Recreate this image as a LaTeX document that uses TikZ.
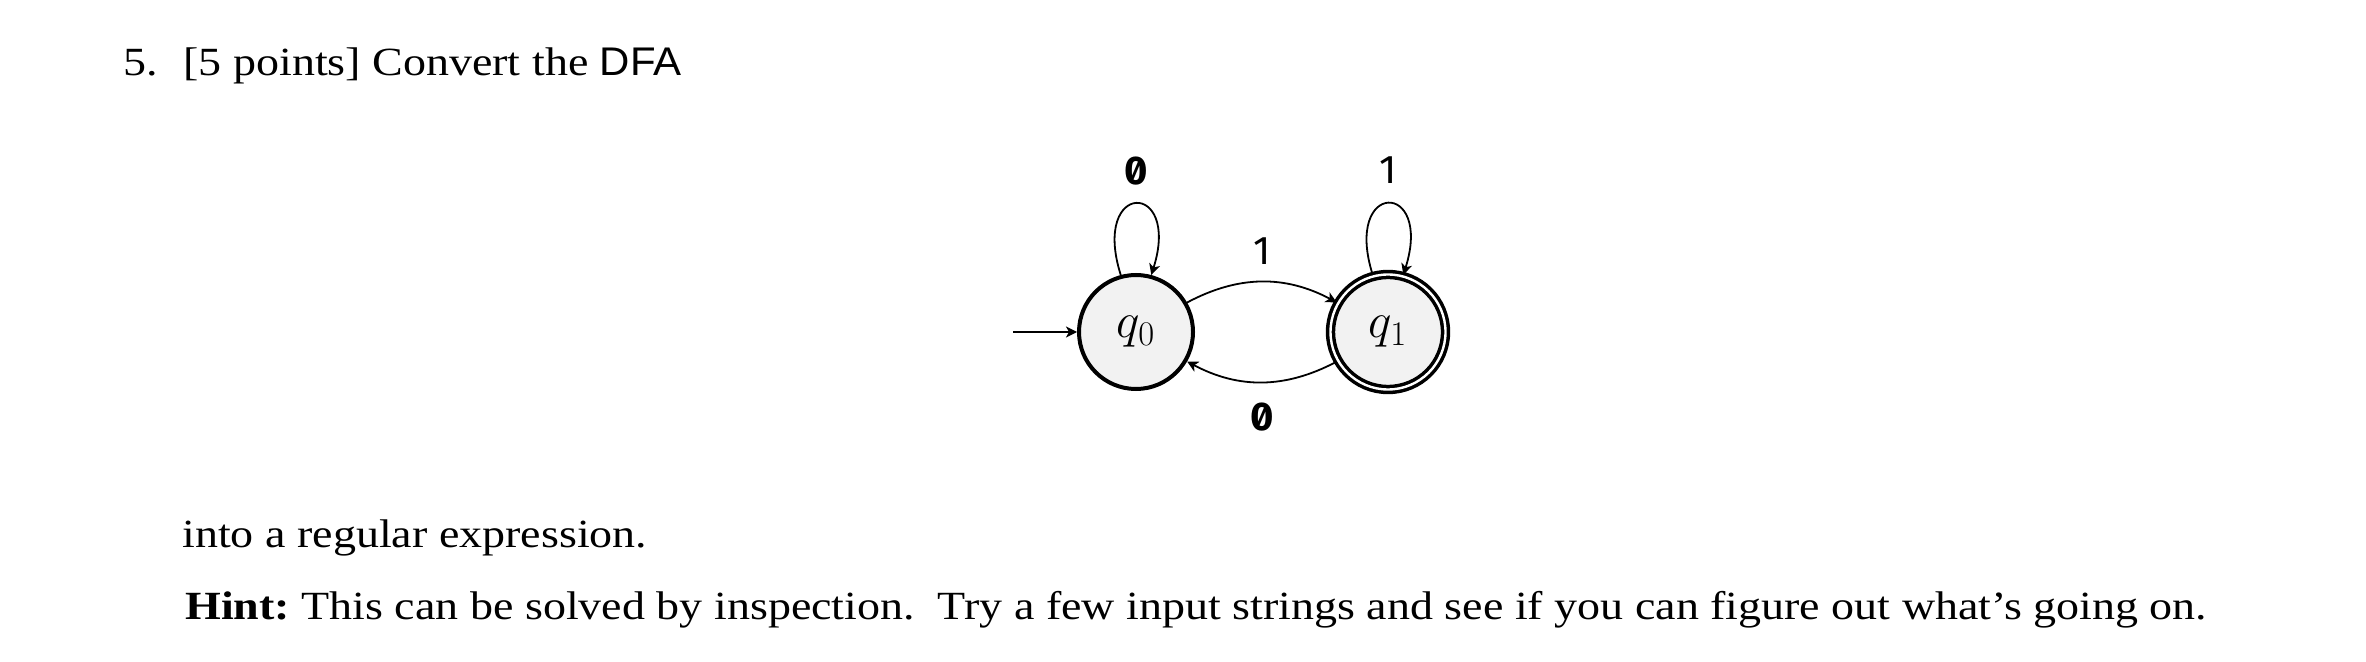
\documentclass[tikz,border=0pt]{standalone}
\usepackage{fontspec}
\setmainfont[FakeStretch=1.15]{Liberation Serif}
\newfontfamily\dfafont[FakeStretch=1.05]{Liberation Sans}
\newfontfamily\lblfont{Fira Sans}
\newfontfamily\zerofont[RawFeature=+zero]{Fira Sans}
\usetikzlibrary{arrows.meta}
\begin{document}
\begin{tikzpicture}[x=0.5pt,y=-0.5pt,
  txt/.style={anchor=base west, inner sep=0pt, font=\fontsize{20}{24}\selectfont},
  state/.style={circle, draw, line width=2pt, fill=gray!10, minimum size=57pt, inner sep=0pt, font=\fontsize{25}{30}\selectfont},
  accepting/.style={line width=1.75pt, double, double distance=1.2pt, minimum size=57.5pt},
  edge/.style={line width=0.9pt, -{Stealth[length=5.5pt,width=5.5pt,inset=1.5pt]}},
  lbl/.style={inner sep=0pt, font=\lblfont\fontsize{20}{23}\selectfont},
  zlbl/.style={inner sep=0pt, font=\zerofont\bfseries\fontsize{20}{23}\selectfont}]
\fill[white] (0,0) rectangle (2366,662);
\useasboundingbox (0,0) rectangle (2366,662);

\node[txt] (num) at (123,76) {5.};
\node[txt] (title) at (183,76) {[5 points] Convert the {\dfafont DFA}};
\node[txt] (into) at (182,547) {into a regular expression.};
\node[txt] (hint) at (185,619) {\textbf{Hint:}\ This can be solved by inspection.\ \ Try a few input strings and see if you can figure out what's going on.};

\node[state] (q0) at (1136,332) {$q_0$};
\node[state, accepting] (q1) at (1388,332) {$q_1$};
\coordinate (init) at (1013,332);

\draw[edge] (init) -- (q0);
\draw[edge] (q0.105) .. controls +(-30,-95) and +(30,-95) .. node[zlbl, above=9pt] (l00) {0} (q0.75);
\draw[edge] (q1.105) .. controls +(-30,-95) and +(30,-95) .. node[lbl, above=9.5pt] (l11) {1} (q1.75);
\draw[edge] (q0.30) to[bend left=28] node[lbl, midway, above=8pt] (l01) {1} (q1.150);
\draw[edge] (q1.210) to[bend left=28] node[zlbl, midway, below=10pt] (l10) {0} (q0.-30);
\end{tikzpicture}
\end{document}
